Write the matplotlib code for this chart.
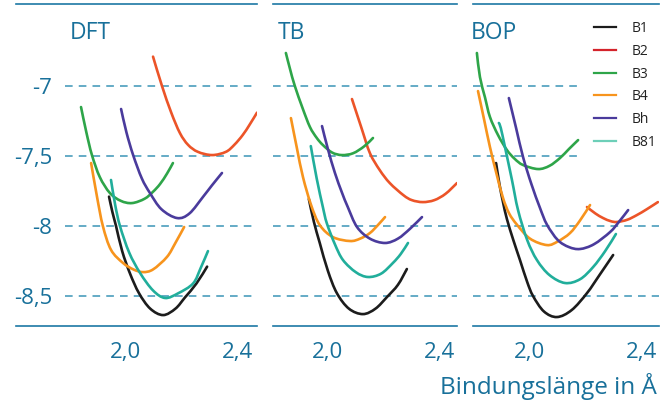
import matplotlib
matplotlib.use("Agg")
import matplotlib.pyplot as plt
from matplotlib.lines import Line2D
from matplotlib.path import Path
from matplotlib.patches import PathPatch

plt.rcParams['font.family'] = ['Open Sans', 'DejaVu Sans']

# ---------------- data ----------------
panel_titles = ["DFT", "TB", "BOP"]
series_names = ["B1", "B2", "B3", "B4", "Bh", "B81"]
y_ticks = [-7.0, -7.5, -8.0, -8.5]
y_tick_labels = ["-7", "-7,5", "-8", "-8,5"]
x_ticks = [2.0, 2.4]
x_tick_labels = ["2,0", "2,4"]
x_label = "Bindungslänge in Å"

# DFT
dft_b1_x = [1.943, 1.955, 1.968, 1.99, 2.018, 2.05, 2.09, 2.136, 2.18, 2.214, 2.255, 2.293]
dft_b1_y = [-7.79, -7.90, -8.00, -8.18, -8.34, -8.48, -8.59, -8.636, -8.59, -8.51, -8.41, -8.29]
dft_b2_x = [2.10, 2.132, 2.165, 2.196, 2.225, 2.26, 2.311, 2.36, 2.39, 2.42, 2.445, 2.471]
dft_b2_y = [-6.79, -7.00, -7.19, -7.336, -7.42, -7.47, -7.493, -7.47, -7.42, -7.35, -7.275, -7.19]
dft_b3_x = [1.843, 1.862, 1.882, 1.91, 1.946, 1.985, 2.025, 2.07, 2.10, 2.125, 2.15, 2.171]
dft_b3_y = [-7.15, -7.33, -7.493, -7.65, -7.764, -7.82, -7.836, -7.805, -7.755, -7.70, -7.625, -7.55]
dft_b4_x = [1.879, 1.90, 1.921, 1.95, 1.993, 2.03, 2.064, 2.10, 2.15, 2.18, 2.211]
dft_b4_y = [-7.55, -7.79, -8.00, -8.17, -8.264, -8.31, -8.329, -8.31, -8.22, -8.12, -8.007]
dft_bh_x = [1.986, 2.005, 2.029, 2.06, 2.089, 2.13, 2.186, 2.23, 2.279, 2.31, 2.346]
dft_bh_y = [-7.164, -7.33, -7.493, -7.66, -7.764, -7.88, -7.943, -7.91, -7.79, -7.71, -7.621]
dft_b81_x = [1.95, 1.965, 1.982, 2.015, 2.054, 2.10, 2.143, 2.19, 2.243, 2.27, 2.296]
dft_b81_y = [-7.671, -7.85, -8.00, -8.19, -8.336, -8.46, -8.514, -8.48, -8.41, -8.30, -8.179]

# TB
tb_b1_x = [1.932, 1.95, 1.971, 2.0, 2.032, 2.075, 2.125, 2.17, 2.211, 2.25, 2.282]
tb_b1_y = [-7.807, -7.97, -8.121, -8.32, -8.479, -8.59, -8.629, -8.59, -8.507, -8.42, -8.307]
tb_b2_x = [2.086, 2.12, 2.15, 2.185, 2.221, 2.27, 2.30, 2.339, 2.38, 2.42, 2.461]
tb_b2_y = [-7.093, -7.30, -7.479, -7.60, -7.693, -7.78, -7.815, -7.829, -7.815, -7.77, -7.693]
tb_b3_x = [1.85, 1.865, 1.882, 1.91, 1.936, 1.96, 1.982, 2.015, 2.05, 2.09, 2.13, 2.161]
tb_b3_y = [-6.764, -6.88, -7.00, -7.16, -7.293, -7.37, -7.421, -7.475, -7.493, -7.48, -7.43, -7.371]
tb_b4_x = [1.868, 1.89, 1.911, 1.94, 1.971, 2.018, 2.079, 2.115, 2.15, 2.18, 2.204]
tb_b4_y = [-7.229, -7.45, -7.65, -7.85, -7.993, -8.079, -8.107, -8.09, -8.05, -7.99, -7.936]
tb_bh_x = [1.979, 2.0, 2.025, 2.05, 2.071, 2.104, 2.15, 2.204, 2.25, 2.293, 2.336]
tb_bh_y = [-7.286, -7.45, -7.62, -7.76, -7.864, -8.007, -8.09, -8.121, -8.09, -8.02, -7.936]
tb_b81_x = [1.939, 1.96, 1.982, 1.996, 2.025, 2.054, 2.10, 2.143, 2.19, 2.232, 2.26, 2.286]
tb_b81_y = [-7.429, -7.66, -7.864, -7.979, -8.13, -8.243, -8.33, -8.364, -8.34, -8.264, -8.20, -8.121]

# BOP
bop_b1_x = [1.878, 1.89, 1.903, 1.917, 1.94, 1.964, 1.99, 2.011, 2.05, 2.097, 2.15, 2.205, 2.25, 2.299]
bop_b1_y = [-7.55, -7.70, -7.83, -7.95, -8.10, -8.243, -8.40, -8.50, -8.61, -8.65, -8.60, -8.479, -8.35, -8.207]
bop_b2_x = [2.205, 2.235, 2.263, 2.29, 2.313, 2.35, 2.385, 2.42, 2.46]
bop_b2_y = [-7.864, -7.91, -7.943, -7.965, -7.971, -7.955, -7.921, -7.88, -7.829]
bop_b3_x = [1.809, 1.82, 1.838, 1.856, 1.885, 1.917, 1.945, 1.975, 2.029, 2.07, 2.108, 2.14, 2.173]
bop_b3_y = [-6.764, -6.936, -7.08, -7.221, -7.35, -7.457, -7.52, -7.564, -7.593, -7.57, -7.514, -7.45, -7.386]
bop_b4_x = [1.813, 1.835, 1.856, 1.88, 1.903, 1.925, 1.953, 2.0, 2.061, 2.10, 2.144, 2.18, 2.216]
bop_b4_y = [-7.036, -7.24, -7.436, -7.63, -7.80, -7.91, -7.99, -8.09, -8.136, -8.11, -8.05, -7.96, -7.85]
bop_bh_x = [1.924, 1.95, 1.975, 2.005, 2.036, 2.061, 2.10, 2.14, 2.18, 2.23, 2.288, 2.32, 2.353]
bop_bh_y = [-7.086, -7.30, -7.507, -7.70, -7.871, -7.99, -8.10, -8.15, -8.164, -8.13, -8.043, -7.97, -7.886]
bop_b81_x = [1.888, 1.895, 1.91, 1.935, 1.957, 1.99, 2.025, 2.07, 2.126, 2.18, 2.227, 2.27, 2.309]
bop_b81_y = [-7.264, -7.30, -7.436, -7.67, -7.886, -8.10, -8.243, -8.35, -8.407, -8.38, -8.293, -8.18, -8.057]

panels = [
    [(dft_b1_x, dft_b1_y), (dft_b2_x, dft_b2_y), (dft_b3_x, dft_b3_y),
     (dft_b4_x, dft_b4_y), (dft_bh_x, dft_bh_y), (dft_b81_x, dft_b81_y)],
    [(tb_b1_x, tb_b1_y), (tb_b2_x, tb_b2_y), (tb_b3_x, tb_b3_y),
     (tb_b4_x, tb_b4_y), (tb_bh_x, tb_bh_y), (tb_b81_x, tb_b81_y)],
    [(bop_b1_x, bop_b1_y), (bop_b2_x, bop_b2_y), (bop_b3_x, bop_b3_y),
     (bop_b4_x, bop_b4_y), (bop_bh_x, bop_bh_y), (bop_b81_x, bop_b81_y)],
]

# ---------------- style ----------------
curve_colors = ["#1c1c1c", "#ec5428", "#2ea549", "#f7941d", "#4a3b9c", "#21ae9b"]
legend_colors = ["#1c1c1c", "#d4232b", "#2ea549", "#f7941d", "#4a3b9c", "#6dcfb8"]
blue_text = "#18709a"
dash_color = "#3b95b6"
rule_color = "#1c78a4"


def smooth_curve(ax, xs, ys, color):
    """Draw a smooth (Catmull-Rom as cubic Bezier) line through the data points."""
    pts = list(zip(xs, ys))
    n = len(pts)
    verts = [pts[0]]
    codes = [Path.MOVETO]
    for i in range(n - 1):
        p0 = pts[max(i - 1, 0)]
        p1 = pts[i]
        p2 = pts[i + 1]
        p3 = pts[min(i + 2, n - 1)]
        c1 = (p1[0] + (p2[0] - p0[0]) / 6.0, p1[1] + (p2[1] - p0[1]) / 6.0)
        c2 = (p2[0] - (p3[0] - p1[0]) / 6.0, p2[1] - (p3[1] - p1[1]) / 6.0)
        verts += [c1, c2, p2]
        codes += [Path.CURVE4] * 3
    patch = PathPatch(Path(verts, codes), fill=False, edgecolor=color, lw=1.9,
                      capstyle="round", joinstyle="round", zorder=3)
    ax.add_patch(patch)


W, H = 667, 400
fig = plt.figure(figsize=(W / 100, H / 100), dpi=100)

ymin, ymax = -8.714, -6.414
top_px, bot_px = 4, 326
boxes = [(16, 257, 1.611, 2.471), (273, 457, 1.804, 2.461), (473, 659, 1.795, 2.464)]
title_px = [70, 278, 471]

for i, (l, r, x0, x1) in enumerate(boxes):
    ax = fig.add_axes([l / W, 1 - bot_px / H, (r - l) / W, (bot_px - top_px) / H])
    ax.set_xlim(x0, x1)
    ax.set_ylim(ymin, ymax)
    for s in ["left", "right"]:
        ax.spines[s].set_visible(False)
    for s in ["top", "bottom"]:
        ax.spines[s].set_color(rule_color)
        ax.spines[s].set_linewidth(1.2)
    for yv in y_ticks:
        xmin = 0.0
        xmax = 1.0
        if i == 0:
            xmin = (65 - l) / (r - l)
        if i == 2 and yv > -7.8:
            xmax = (583 - l) / (r - l)
        ax.axhline(yv, xmin=xmin, xmax=xmax, color=dash_color, lw=1.1,
                   ls=(0, (5, 4)), zorder=1)
    for (xs, ys), c in zip(panels[i], curve_colors):
        smooth_curve(ax, xs, ys, c)
    ax.set_xticks(x_ticks)
    ax.set_xticklabels(x_tick_labels)
    ax.tick_params(axis="x", length=0, pad=11.5, labelsize=16, labelcolor=blue_text)
    if i == 0:
        ax.set_yticks(y_ticks)
        ax.set_yticklabels(y_tick_labels)
        ax.tick_params(axis="y", length=0, pad=-26, labelsize=16, labelcolor=blue_text)
    else:
        ax.set_yticks([])
    fig.text(title_px[i] / W, 1 - 33 / H, panel_titles[i], color=blue_text,
             fontsize=16.5, ha="left", va="center")
    if i == 2:
        handles = [Line2D([], [], color=c, lw=1.6) for c in legend_colors]
        fig.legend(handles, series_names, loc="upper left",
                   bbox_to_anchor=(594 / W, 1 - 21 / H), frameon=False,
                   fontsize=10, handlelength=1.6, handletextpad=1.1,
                   labelspacing=0.56, borderpad=0, borderaxespad=0,
                   labelcolor="#222222")

fig.text(657 / W, 1 - 386 / H, x_label, color=blue_text, fontsize=17.5,
         ha="right", va="center")

fig.savefig("out.png", dpi=100)
